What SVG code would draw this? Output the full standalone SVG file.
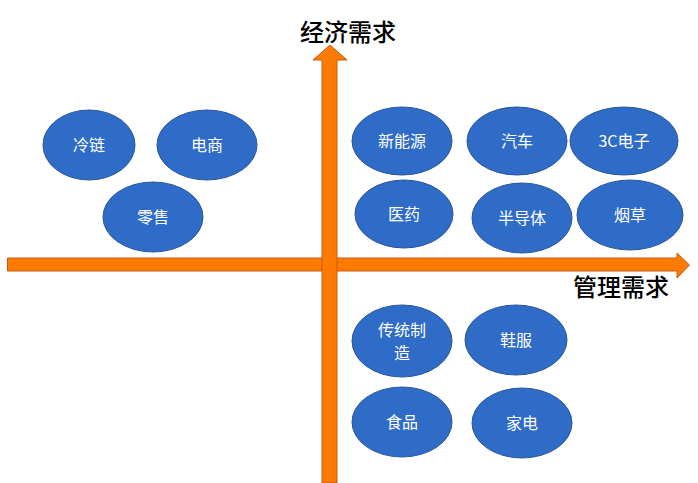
<svg xmlns="http://www.w3.org/2000/svg" width="698" height="483" viewBox="0 0 698 483">
<style>
.n ellipse{fill:#2F6CC7;stroke:#2A5597;stroke-width:1}
.n text{fill:#fff;font-family:"Noto Sans CJK SC","Noto Sans",sans-serif;font-size:16px;text-anchor:middle}
.ax{fill:#FF7A00;stroke:#C55A11;stroke-width:1}
.t{fill:#000;font-family:"Noto Sans CJK SC","Noto Sans",sans-serif;font-size:24px;font-weight:500;text-anchor:middle}
</style>
<rect width="698" height="483" fill="#fff"/>
<g id="connectors">
<polygon class="ax" points="7.5,258 677,258 677,253 689.5,265 677,278 677,271 7.5,271"/>
<polygon class="ax" points="322,483 322,60 313,60 330,45 347,60 337,60 337,483"/>
</g>
<g id="labels">
<text class="t" x="348" y="41">经济需求</text>
<text class="t" x="621" y="296">管理需求</text>
</g>
<g id="n-lenglian" class="n"><ellipse cx="89" cy="145" rx="46" ry="35"/><text x="89" y="151">冷链</text></g>
<g id="n-dianshang" class="n"><ellipse cx="207" cy="145" rx="50" ry="35"/><text x="207" y="151">电商</text></g>
<g id="n-lingshou" class="n"><ellipse cx="153" cy="217" rx="50" ry="35"/><text x="153" y="223">零售</text></g>
<g id="n-xinnengyuan" class="n"><ellipse cx="402" cy="141" rx="50" ry="34"/><text x="402" y="147">新能源</text></g>
<g id="n-qiche" class="n"><ellipse cx="517" cy="141" rx="50" ry="34"/><text x="517" y="147">汽车</text></g>
<g id="n-3c" class="n"><ellipse cx="624" cy="141" rx="54" ry="34"/><text x="624" y="147">3C电子</text></g>
<g id="n-yiyao" class="n"><ellipse cx="404" cy="214" rx="49" ry="34"/><text x="404" y="220">医药</text></g>
<g id="n-bandaoti" class="n"><ellipse cx="522" cy="218" rx="50" ry="35"/><text x="522" y="224">半导体</text></g>
<g id="n-yancao" class="n"><ellipse cx="630" cy="215" rx="53" ry="35"/><text x="630" y="221">烟草</text></g>
<g id="n-chuantong" class="n"><ellipse cx="402" cy="341" rx="50" ry="36"/><text x="402" y="336">传统制</text><text x="402" y="359">造</text></g>
<g id="n-xiefu" class="n"><ellipse cx="516" cy="340" rx="51" ry="35"/><text x="516" y="346">鞋服</text></g>
<g id="n-shipin" class="n"><ellipse cx="402" cy="422" rx="50" ry="35"/><text x="402" y="428">食品</text></g>
<g id="n-jiadian" class="n"><ellipse cx="522" cy="423" rx="50" ry="35"/><text x="522" y="429">家电</text></g>
</svg>
